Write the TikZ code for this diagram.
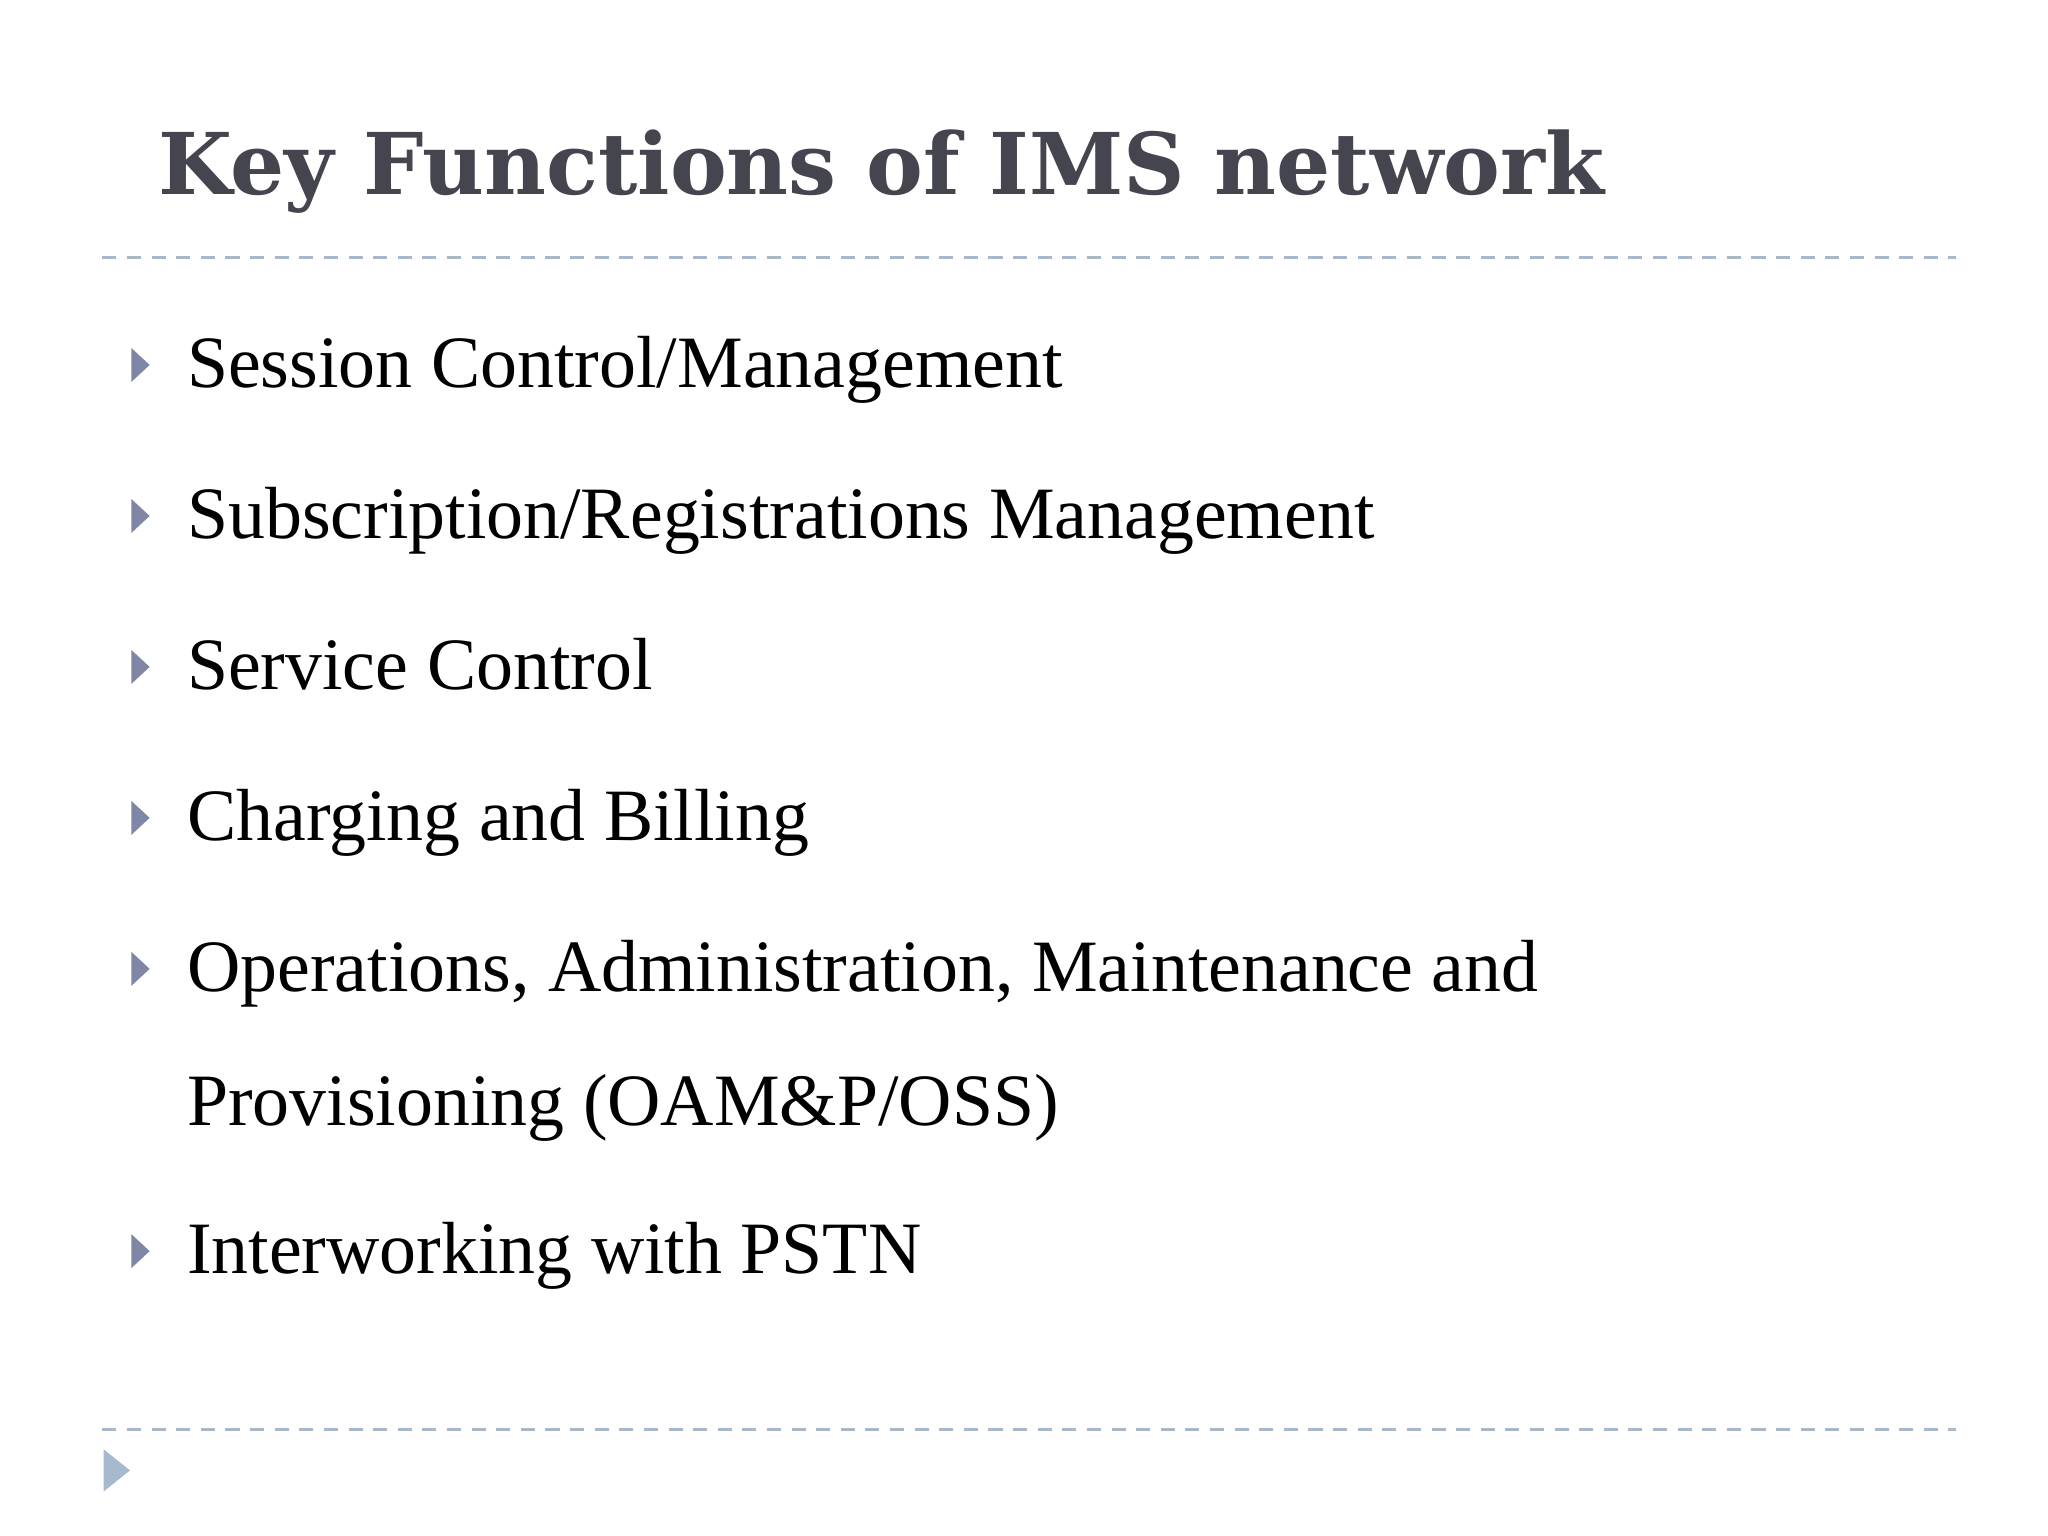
\documentclass[tikz,border=0pt]{standalone}
\usepackage{fontspec}
\setmainfont{Liberation Serif}
\newfontfamily\titlefont{DejaVu Serif}
\definecolor{titlec}{HTML}{45454F}
\definecolor{dashc}{HTML}{A9B8C8}
\definecolor{bulc}{HTML}{7F86A6}
\definecolor{bigbul}{HTML}{A6B9CF}
\begin{document}
\begin{tikzpicture}[x=0.01313cm,y=-0.01313cm,
  item/.style={anchor=base west,inner sep=0pt,font=\fontsize{21}{25}\selectfont,text=black},
  bul/.style={fill=bulc,draw=none},
  sep/.style={draw=dashc,dash pattern=on 4pt off 3pt,line width=0.8pt}]
\useasboundingbox (0,0) rectangle (1560,1170);
\fill[white] (0,0) rectangle (1560,1170);
\node[anchor=base west,inner sep=0pt,text=titlec] (title) at (120,148)
  {\resizebox{14.45cm}{!}{\titlefont\bfseries Key Functions of IMS network}};
\coordinate (l1a) at (78,196); \coordinate (l1b) at (1490,196);
\coordinate (l2a) at (78,1089); \coordinate (l2b) at (1490,1089);
\draw[sep] (l1a) -- (l1b);
\draw[sep] (l2a) -- (l2b);
\foreach \y/\t [count=\i] in {295/{Session Control/Management},410/{Subscription/Registrations Management},525/{Service Control},640/{Charging and Billing},755/{Operations, Administration, Maintenance and},970/{Interworking with PSTN}}{
  \fill[bul] (100,\y-30) -- (114,\y-17) -- (100,\y-4) -- cycle;
  \node[item] (it\i) at (142,\y) {\t};
}
\node[item] (it7) at (142,857) {Provisioning (OAM\&P/OSS)};
\fill[bigbul] (79,1104) -- (99,1120) -- (79,1136) -- cycle;
\end{tikzpicture}
\end{document}
